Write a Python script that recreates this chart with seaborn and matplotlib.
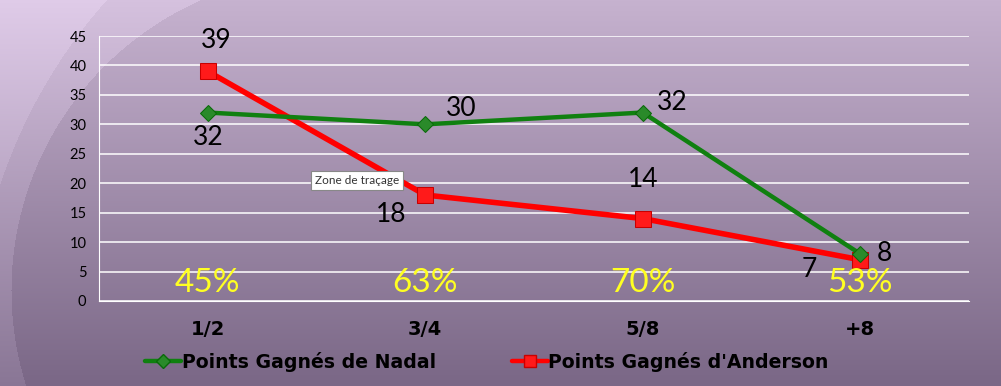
import numpy as np
import pandas as pd
import seaborn as sns
import matplotlib.pyplot as plt
from matplotlib.lines import Line2D
from matplotlib.font_manager import FontProperties

# Data
sets = ['1/2', '3/4', '5/8', '+8']
nadal = [32, 30, 32, 8]
anderson = [39, 18, 14, 7]
win_pct = ['45%', '63%', '70%', '53%']
label_nadal = 'Points Gagnés de Nadal'
label_anderson = "Points Gagnés d'Anderson"

sns.set_style('white')
plt.rcParams['font.family'] = ['Lato', 'DejaVu Sans']
plt.rcParams['text.color'] = 'black'

W, H = 1001, 386
fig = plt.figure(figsize=(W / 100, H / 100), dpi=100)

# background: vertical purple gradient + lighter arcs on the left
bg = fig.add_axes([0, 0, 1, 1], zorder=-10)
yy, xx = np.mgrid[0:H, 0:W]
t = (yy / (H - 1))[..., None]
top = np.array([198, 178, 207]) / 255
bot = np.array([122, 103, 134]) / 255
img = top * (1 - t) + bot * t
d1 = np.hypot(xx - 328, yy - 290)
band1 = (d1 > 317) & (xx < 328)
img[band1] = img[band1] + 0.06
d2 = np.hypot(xx - 500, yy - 350)
band2 = (d2 > 527) & (xx < 500)
img[band2] = img[band2] + 0.04
img = np.clip(img, 0, 1)
bg.imshow(img, aspect='auto', extent=[0, 1, 0, 1], origin='upper')
bg.axis('off')

ax = fig.add_axes([99 / W, 1 - 301 / H, 870 / W, 265 / H])
ax.patch.set_alpha(0)

df_a = pd.DataFrame({'set': sets, 'points': anderson})
df_n = pd.DataFrame({'set': sets, 'points': nadal})

sns.lineplot(data=df_a, x='set', y='points', ax=ax, color='#ff0000', lw=4.0,
             marker='s', markersize=11, markeredgecolor='#c80000',
             markerfacecolor='#ff1a1a', sort=False, zorder=3)
sns.lineplot(data=df_n, x='set', y='points', ax=ax, color='#108010', lw=3.2,
             marker='D', markersize=8, markeredgecolor='#0a6a0a',
             markerfacecolor='#2a8a2a', sort=False, zorder=4)

legend_font = FontProperties(family=['DejaVu Sans'], weight='bold', size=13.6)
tick_font = FontProperties(family=['DejaVu Sans'], weight='bold', size=14)

ax.set_xlim(-0.5, 3.5)
ax.set_ylim(0, 45)
ax.set_yticks(range(0, 46, 5))
ax.grid(axis='y', color='white', lw=1.1)
ax.set_axisbelow(True)
ax.set_xlabel('')
ax.set_ylabel('')
for s in ['top', 'right']:
    ax.spines[s].set_visible(False)
ax.spines['left'].set_color('white')
ax.spines['bottom'].set_color('white')
ax.tick_params(axis='y', colors='white', length=5, width=1, labelcolor='black',
               labelsize=10.5, pad=4)
ax.tick_params(axis='x', which='major', length=0, pad=14, labelcolor='black')
ax.set_xticks([-0.5, 0.5, 1.5, 2.5, 3.5], minor=True)
ax.tick_params(axis='x', which='minor', colors='white', length=7, width=1)
for lbl in ax.get_xticklabels():
    lbl.set_fontproperties(tick_font)

# data labels
off_n = [(0, -25), (36, 16), (30, 10), (24, 0)]
off_a = [(8, 31), (-34, -19), (0, 39), (-51, -10)]
for i, (v, o) in enumerate(zip(nadal, off_n)):
    ax.annotate(str(v), (i, v), xytext=o, textcoords='offset pixels',
                ha='center', va='center', fontsize=19, color='black', zorder=6)
for i, (v, o) in enumerate(zip(anderson, off_a)):
    ax.annotate(str(v), (i, v), xytext=o, textcoords='offset pixels',
                ha='center', va='center', fontsize=19, color='black', zorder=6)

for i, p in enumerate(win_pct):
    ax.text(i, 3.0, p, ha='center', va='center', fontsize=24, color='#ffff22',
            zorder=5)

# tooltip
ax.text(0.686, 20.5, 'Zone de traçage', ha='center', va='center', fontsize=8.5,
        color='#333333', zorder=7,
        bbox=dict(boxstyle='square,pad=0.35', fc='white', ec='#888888', lw=0.8))

handles = [
    Line2D([], [], color='#108010', lw=3.2, marker='D', markersize=7,
           markerfacecolor='#2a8a2a', markeredgecolor='#0a6a0a'),
    Line2D([], [], color='#ff0000', lw=3.2, marker='s', markersize=9,
           markerfacecolor='#ff1a1a', markeredgecolor='#c80000'),
]
fig.legend(handles, [label_nadal, label_anderson], loc='center',
           bbox_to_anchor=(487 / W, 1 - 362 / H), ncol=2, frameon=False,
           prop=legend_font, handlelength=1.9, handletextpad=0.05,
           columnspacing=4.0, labelcolor='black')

fig.savefig('out.png', dpi=100)
